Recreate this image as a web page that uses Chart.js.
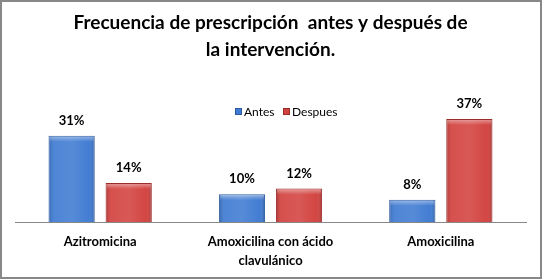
<!DOCTYPE html>
<html>
<head>
<meta charset="utf-8">
<script src="https://cdn.jsdelivr.net/npm/chart.js@4"></script>
<style>
  html, body { margin: 0; padding: 0; background: #fff; }
  #wrap { width: 542px; height: 279px; }
</style>
</head>
<body>
<div id="wrap"><canvas id="chart" width="542" height="279"></canvas></div>
<script>
const categories = ['Azitromicina', ['Amoxicilina con ácido', 'clavulánico'], 'Amoxicilina'];
const antes = [31, 10, 8];
const despues = [14, 12, 37];
const seriesNames = ['Antes', 'Despues'];

const BLUE = '#3f7bd2';
const BLUE_EDGE = '#2c5aa0';
const RED = '#d2423f';
const RED_EDGE = '#9a2c2a';
const FONT = 'Lato';

// border around the whole picture
const frame = {
  id: 'frame',
  beforeDraw(chart) {
    const ctx = chart.ctx;
    ctx.save();
    ctx.fillStyle = '#fff';
    ctx.fillRect(0, 0, chart.width, chart.height);
    ctx.strokeStyle = '#888';
    ctx.lineWidth = 2;
    ctx.strokeRect(1, 1, chart.width - 2, chart.height - 2);
    ctx.restore();
  },
};

// soft bevel on each bar, plus the percent labels above them
const barDecor = {
  id: 'barDecor',
  afterDatasetsDraw(chart) {
    const ctx = chart.ctx;
    ctx.save();
    chart.data.datasets.forEach((ds, i) => {
      chart.getDatasetMeta(i).data.forEach((bar) => {
        const left = bar.x - bar.width / 2;
        const top = bar.y;
        const h = bar.base - bar.y;
        const g = ctx.createLinearGradient(left, 0, left + bar.width, 0);
        g.addColorStop(0, 'rgba(0,0,0,0.18)');
        g.addColorStop(0.12, 'rgba(255,255,255,0.08)');
        g.addColorStop(0.5, 'rgba(255,255,255,0.12)');
        g.addColorStop(0.88, 'rgba(255,255,255,0.02)');
        g.addColorStop(1, 'rgba(0,0,0,0.25)');
        ctx.fillStyle = g;
        ctx.fillRect(left + 1, top + 1, bar.width - 2, h - 1);
        const t = ctx.createLinearGradient(0, top, 0, top + 6);
        t.addColorStop(0, 'rgba(255,255,255,0.45)');
        t.addColorStop(1, 'rgba(255,255,255,0)');
        ctx.fillStyle = t;
        ctx.fillRect(left + 1, top + 1, bar.width - 2, Math.min(6, h - 1));
      });
    });

    ctx.font = `bold 13px ${FONT}`;
    ctx.fillStyle = '#000';
    ctx.textAlign = 'center';
    ctx.textBaseline = 'middle';
    chart.data.datasets.forEach((ds, i) => {
      chart.getDatasetMeta(i).data.forEach((bar, j) => {
        ctx.fillText(ds.data[j] + '%', bar.x, bar.y - 15);
      });
    });
    ctx.restore();
  },
};

// legend sitting inside the plot, like the original
const innerLegend = {
  id: 'innerLegend',
  afterDraw(chart) {
    const ctx = chart.ctx;
    const items = [
      { text: seriesNames[0], x: 235, fill: BLUE, edge: BLUE_EDGE },
      { text: seriesNames[1], x: 283, fill: RED, edge: RED_EDGE },
    ];
    const y = 112;
    ctx.save();
    ctx.font = `12px ${FONT}`;
    ctx.textBaseline = 'middle';
    items.forEach((it) => {
      ctx.fillStyle = it.fill;
      ctx.fillRect(it.x, y - 4, 7, 7);
      ctx.strokeStyle = it.edge;
      ctx.lineWidth = 1;
      ctx.strokeRect(it.x + 0.5, y - 3.5, 6, 6);
      ctx.fillStyle = '#000';
      ctx.fillText(it.text, it.x + 9, y);
    });
    ctx.restore();
  },
};

new Chart(document.getElementById('chart'), {
  type: 'bar',
  data: {
    labels: categories,
    datasets: [
      {
        label: seriesNames[0],
        data: antes,
        backgroundColor: BLUE,
        borderColor: BLUE_EDGE,
        borderWidth: 1,
      },
      {
        label: seriesNames[1],
        data: despues,
        backgroundColor: RED,
        borderColor: RED_EDGE,
        borderWidth: 1,
      },
    ],
  },
  options: {
    responsive: false,
    animation: false,
    categoryPercentage: 0.67,
    barPercentage: 0.81,
    layout: {
      padding: { left: 15, right: 16, top: 0, bottom: -2 },
    },
    plugins: {
      legend: { display: false },
      tooltip: { enabled: false },
      title: {
        display: true,
        text: ['Frecuencia de prescripción  antes y después de', 'la intervención.'],
        color: '#000',
        font: { family: FONT, size: 19, weight: 'bold', lineHeight: 1.42 },
        padding: { top: 9, bottom: 36 },
      },
    },
    scales: {
      y: {
        display: false,
        min: 0,
        max: 44.2,
      },
      x: {
        grid: { display: false, drawTicks: false },
        border: { display: true, color: '#888', width: 1 },
        ticks: {
          color: '#000',
          padding: 10,
          font: { family: FONT, size: 13, weight: 'bold', lineHeight: 1.5 },
        },
      },
    },
  },
  plugins: [frame, barDecor, innerLegend],
});
</script>
</body>
</html>
